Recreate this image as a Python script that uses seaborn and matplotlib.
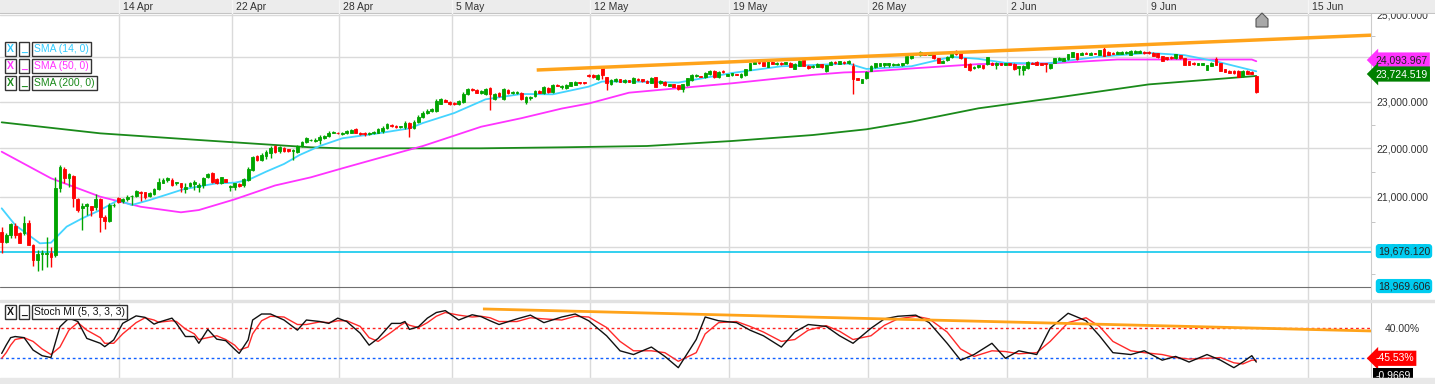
import numpy as np
import matplotlib
matplotlib.use("Agg")
import matplotlib.pyplot as plt
import matplotlib.ticker as mticker
from matplotlib.patches import Rectangle, Polygon
import seaborn as sns

# hourly candles (index 0 = first candle on the left)
open_ = [20305, 20111, 20241, 20416, 20274, 20286, 20469, 20048, 19761, 19876, 19880, 19889, 19857, 21168, 21556, 21384,
         21419, 20951, 20765, 20811, 20811, 20797, 20945, 20587, 20520, 20825, 20978, 20911, 20951, 21010, 21020, 21100,
         21086, 21010, 21046, 21146, 21282, 21337, 21337, 21285, 21270, 21160, 21215, 21250, 21188, 21235, 21392, 21474,
         21350, 21270, 21350, 21188, 21200, 21255, 21235, 21337, 21542, 21833, 21750, 21833, 21890, 22044, 21944, 21994,
         21980, 21940, 21923, 22044, 22135, 22165, 22150, 22171, 22220, 22255, 22330, 22330, 22290, 22310, 22330, 22400,
         22330, 22330, 22300, 22320, 22330, 22360, 22430, 22500, 22470, 22450, 22440, 22540, 22430, 22560, 22660, 22760,
         22790, 22800, 22960, 23040, 23000, 22980, 22950, 23000, 23170, 23280, 23260, 23200, 23160, 23310, 23060, 23200,
         23060, 23250, 23200, 23190, 23200, 23000, 23080, 23130, 23230, 23200, 23300, 23220, 23380, 23330, 23300, 23360,
         23380, 23440, 23430, 23600, 23590, 23510, 23780, 23550, 23400, 23470, 23500, 23440, 23480, 23422, 23506, 23498,
         23468, 23422, 23544, 23407, 23445, 23354, 23392, 23369, 23293, 23369, 23483, 23574, 23574, 23544, 23620, 23688,
         23544, 23688, 23582, 23590, 23620, 23559, 23597, 23711, 23848, 23893, 23893, 23787, 23893, 23848, 23878, 23848,
         23878, 23741, 23802, 23939, 23802, 23772, 23787, 23840, 23696, 23825, 23893, 23848, 23893, 23863, 23802, 23521,
         23422, 23521, 23688, 23772, 23802, 23820, 23830, 23830, 23830, 23830, 23863, 23977, 24091, 24053, 24091, 24060,
         24076, 23977, 23878, 23939, 24000, 24152, 24091, 23977, 23848, 23749, 23772, 23825, 23848, 23878, 23820, 23863,
         23830, 23863, 23848, 23760, 23720, 23749, 23878, 23893, 23863, 23863, 23748, 23878, 23940, 23925, 23955, 24016,
         24093, 24055, 24108, 24055, 24093, 24055, 24185, 24131, 24108, 24077, 24080, 24093, 24055, 24108, 24108, 24131,
         24131, 24108, 24093, 24032, 24001, 24016, 23978, 24055, 23978, 23917, 23878, 23825, 23825, 23710, 23802, 23955,
         23863, 23725, 23695, 23695, 23695, 23572, 23695, 23672, 23572]
high = [20400, 20274, 20469, 20469, 20290, 20613, 20534, 20060, 19952, 19952, 20203, 20015, 21405, 21646, 21610, 21474,
        21440, 20965, 20877, 20877, 20820, 21051, 20965, 20633, 20864, 20877, 20998, 20965, 21031, 21031, 21133, 21113,
        21100, 21086, 21168, 21372, 21372, 21405, 21372, 21300, 21282, 21270, 21303, 21337, 21270, 21405, 21487, 21508,
        21370, 21405, 21360, 21235, 21282, 21270, 21372, 21610, 21833, 21860, 21890, 21959, 22044, 22070, 22044, 22020,
        21990, 21975, 22070, 22156, 22240, 22200, 22210, 22270, 22280, 22355, 22370, 22345, 22340, 22390, 22400, 22420,
        22345, 22350, 22345, 22360, 22420, 22460, 22530, 22520, 22490, 22480, 22570, 22560, 22600, 22700, 22790, 22830,
        22870, 23060, 23090, 23060, 23010, 22995, 23040, 23220, 23310, 23300, 23280, 23250, 23310, 23330, 23190, 23220,
        23310, 23280, 23240, 23230, 23210, 23130, 23130, 23260, 23250, 23340, 23320, 23400, 23390, 23380, 23400, 23450,
        23470, 23450, 23440, 23620, 23610, 23620, 23790, 23560, 23510, 23520, 23510, 23500, 23490, 23550, 23520, 23510,
        23480, 23550, 23560, 23475, 23460, 23400, 23400, 23380, 23400, 23540, 23620, 23610, 23580, 23670, 23720, 23700,
        23690, 23700, 23630, 23650, 23630, 23635, 23740, 23880, 23910, 23905, 23910, 23930, 23905, 23895, 23890, 23900,
        23890, 23860, 23945, 23960, 23815, 23815, 23860, 23855, 23830, 23915, 23905, 23925, 23905, 23940, 23863, 23530,
        23515, 23690, 23815, 23880, 23875, 23870, 23870, 23865, 23860, 23870, 24045, 24090, 24100, 24135, 24100, 24100,
        24090, 23990, 23935, 24030, 24105, 24175, 24100, 23990, 23860, 23800, 23835, 23835, 24015, 23890, 23890, 23870,
        23870, 23870, 23860, 23810, 23815, 23915, 23890, 23905, 23870, 23870, 23850, 23990, 24005, 23990, 24085, 24130,
        24105, 24120, 24115, 24120, 24100, 24180, 24246, 24140, 24115, 24140, 24140, 24140, 24165, 24165, 24165, 24140,
        24140, 24115, 24100, 24040, 24010, 24025, 24080, 24065, 23990, 23925, 23885, 23870, 23870, 23835, 23890, 24000,
        23870, 23735, 23705, 23705, 23705, 23710, 23705, 23680, 23580]
low = [19890, 20081, 20177, 20177, 20080, 20241, 20040, 19653, 19560, 19573, 19634, 19622, 19824, 21098, 21270, 21188,
       20797, 20698, 20338, 20633, 20613, 20731, 20305, 20350, 20500, 20797, 20864, 20864, 20917, 20831, 20998, 20917,
       20951, 20985, 21031, 21133, 21270, 21303, 21215, 21235, 21098, 21066, 21188, 21133, 21098, 21168, 21372, 21270,
       21260, 21250, 21290, 21120, 21133, 21190, 21200, 21322, 21528, 21720, 21735, 21765, 21785, 21890, 21900, 21920,
       21920, 21750, 21890, 22030, 22100, 22140, 22120, 22080, 22200, 22230, 22320, 22300, 22270, 22290, 22310, 22310,
       22280, 22265, 22280, 22300, 22310, 22330, 22410, 22450, 22420, 22430, 22410, 22240, 22410, 22530, 22640, 22740,
       22770, 22780, 22940, 22990, 22930, 22930, 22930, 22980, 23150, 23240, 23190, 23180, 23140, 22820, 23040, 23110,
       23040, 23170, 23180, 23170, 23040, 22960, 23040, 23110, 23190, 23180, 23200, 23200, 23340, 23280, 23280, 23340,
       23370, 23400, 23400, 23560, 23540, 23490, 23500, 23270, 23380, 23450, 23430, 23420, 23440, 23410, 23470, 23440,
       23410, 23410, 23320, 23390, 23360, 23340, 23320, 23260, 23217, 23350, 23470, 23560, 23550, 23530, 23600, 23530,
       23530, 23650, 23570, 23580, 23590, 23540, 23580, 23700, 23840, 23855, 23790, 23770, 23840, 23835, 23830, 23840,
       23775, 23726, 23790, 23790, 23740, 23760, 23775, 23760, 23673, 23815, 23855, 23840, 23850, 23850, 23179, 23475,
       23410, 23510, 23680, 23760, 23790, 23787, 23787, 23800, 23815, 23800, 23850, 23965, 24060, 24040, 24050, 24050,
       23965, 23865, 23865, 23925, 23985, 24065, 23965, 23770, 23696, 23740, 23760, 23740, 23835, 23815, 23726, 23825,
       23820, 23815, 23715, 23597, 23597, 23735, 23840, 23815, 23815, 23673, 23740, 23865, 23930, 23915, 23940, 24005,
       23940, 24045, 24070, 24045, 24070, 24045, 24020, 24045, 24070, 24070, 24070, 24085, 24045, 24100, 24100, 24085,
       24085, 24020, 23990, 23915, 23945, 23970, 23970, 23970, 23815, 23815, 23830, 23815, 23815, 23700, 23790, 23815,
       23685, 23665, 23640, 23625, 23545, 23560, 23610, 23610, 23200]
close = [20110, 20241, 20450, 20241, 20092, 20469, 20048, 19761, 19876, 19889, 19895, 19824, 21168, 21610, 21372, 21460,
         20965, 20731, 20811, 20851, 20731, 20951, 20599, 20520, 20831, 20835, 20897, 20951, 20998, 21020, 21113, 21066,
         20998, 21066, 21146, 21290, 21337, 21372, 21235, 21295, 21188, 21188, 21282, 21290, 21235, 21372, 21453, 21303,
         21270, 21392, 21303, 21215, 21270, 21215, 21350, 21563, 21806, 21750, 21854, 21923, 22008, 21923, 22015, 21944,
         21940, 21960, 22044, 22135, 22207, 22175, 22180, 22240, 22255, 22330, 22350, 22310, 22310, 22370, 22384, 22330,
         22300, 22290, 22320, 22340, 22400, 22435, 22505, 22470, 22440, 22465, 22540, 22430, 22560, 22670, 22760, 22800,
         22850, 23020, 23050, 23000, 22950, 22945, 23020, 23180, 23280, 23250, 23200, 23230, 23285, 23160, 23160, 23130,
         23290, 23190, 23220, 23210, 23060, 23110, 23100, 23230, 23200, 23320, 23220, 23380, 23350, 23360, 23370, 23430,
         23440, 23410, 23410, 23570, 23550, 23600, 23590, 23420, 23480, 23500, 23440, 23480, 23450, 23521, 23483, 23453,
         23422, 23536, 23331, 23460, 23369, 23392, 23331, 23278, 23392, 23521, 23597, 23597, 23559, 23650, 23696, 23544,
         23673, 23658, 23612, 23635, 23597, 23620, 23726, 23863, 23893, 23863, 23802, 23909, 23848, 23878, 23840, 23886,
         23787, 23848, 23924, 23802, 23749, 23802, 23848, 23772, 23817, 23901, 23863, 23909, 23863, 23924, 23506, 23483,
         23506, 23673, 23802, 23863, 23863, 23863, 23860, 23855, 23850, 23863, 24030, 24076, 24068, 24121, 24060, 24091,
         23977, 23878, 23924, 24015, 24091, 24076, 23977, 23787, 23711, 23787, 23825, 23749, 23999, 23825, 23878, 23833,
         23863, 23825, 23726, 23800, 23802, 23901, 23848, 23825, 23825, 23840, 23840, 23978, 23993, 23978, 24070, 24115,
         23955, 24108, 24077, 24108, 24077, 24169, 24032, 24055, 24077, 24131, 24131, 24131, 24154, 24154, 24150, 24093,
         24093, 24032, 24001, 23925, 23955, 23978, 24070, 23978, 23825, 23825, 23840, 23863, 23863, 23825, 23878, 23825,
         23695, 23672, 23649, 23635, 23557, 23695, 23618, 23618, 23213]

# moving averages (candle index, value)
sma14_x = [0, 3, 7, 8.5, 11, 14.5, 18, 22, 26, 29, 33, 37, 40.5, 48, 52, 55, 59, 63, 66.5, 71, 76, 84, 91, 94, 101,
           108, 116, 123, 131, 134, 141, 151, 163, 174, 189, 193, 203, 212, 218, 224, 233, 245, 256, 264, 271, 280]
sma14_v = [20765, 20436, 20177, 20080, 20092, 20404, 20568, 20731, 20931, 20831, 20931, 21045, 21147, 21270, 21282,
           21337, 21508, 21667, 21855, 22044, 22207, 22313, 22420, 22535, 22752, 23053, 23171, 23164, 23335, 23449,
           23449, 23426, 23642, 23795, 23856, 23734, 23795, 24011, 23965, 23873, 23856, 24016, 24102, 24050, 23907, 23680]
sma50_x = [0, 11, 22, 31, 40, 44, 52, 61, 69, 76, 84, 94, 98.5, 107, 116, 125, 131, 140, 151, 163, 181, 188, 193, 203,
           218, 234, 249, 279, 280]
sma50_v = [21923, 21372, 20998, 20797, 20686, 20731, 20945, 21225, 21392, 21577, 21785, 22044, 22185, 22455, 22640,
           22850, 22960, 23200, 23300, 23410, 23600, 23655, 23670, 23745, 23845, 23860, 23950, 23950, 23910]
sma200_x = [0, 22, 44, 61, 69, 76, 94, 107, 125, 144, 163, 181, 193, 203, 218, 234, 256, 280]
sma200_v = [22550, 22313, 22171, 22065, 22016, 21995, 21995, 21995, 22016, 22044, 22150, 22277, 22400, 22563, 22855,
            23070, 23385, 23575]

# stochastic momentum index, %K (black) and %D (red)
stoch_x = [0, 1, 2, 3, 5, 7, 9, 11, 13, 15, 17, 19, 22, 23, 25, 27, 30, 32, 34, 35, 38, 39, 41, 43, 44, 46, 48, 50,
           52, 53, 55, 56, 58, 60, 63, 66, 68, 71, 73, 75, 77, 80, 82, 84, 87, 89, 90, 91, 93, 95, 97, 99, 102, 105,
           107, 109, 111, 115, 118, 121, 125, 128, 131, 135, 138, 141, 145, 148, 151, 155, 157, 160, 164, 167, 170,
           174, 177, 180, 184, 187, 190, 194, 197, 200, 204, 207, 211, 214, 217, 221, 224, 227, 231, 234, 238, 242,
           245, 248, 252, 255, 259, 262, 265, 269, 272, 275, 277, 279, 280]
stoch_k = [-27, -5, 15, 18, 15, -18, -33, -38, 44, 67, 58, 13, 0, -9, 9, 53, 73, 69, 51, 56, 67, 53, 18, 18, 0, 37,
           11, 7, -16, -27, 9, 62, 78, 78, 62, 35, 62, 58, 53, 67, 58, 27, -5, 13, 53, 53, 58, 37, 44, 67, 82, 87, 62,
           76, 71, 60, 50, 65, 75, 55, 70, 78, 60, 20, -20, -30, -10, -35, -65, 10, 70, 60, 55, 35, 20, -10, 30, 50,
           45, 20, 0, 40, 65, 72, 75, 55, 0, -45, -30, 0, -40, -20, -30, 40, 80, 60, 20, -25, -30, -20, -45, -35, -50,
           -30, -45, -65, -50, -33, -50]
stoch_d = [-40, -25, -5, 10, 15, 5, -15, -30, -10, 35, 55, 35, 15, 0, 0, 25, 55, 68, 62, 56, 60, 58, 38, 25, 10, 15,
           20, 10, -5, -18, -10, 25, 60, 72, 70, 50, 50, 57, 55, 60, 60, 45, 15, 5, 30, 48, 55, 48, 42, 55, 72, 82, 75,
           70, 72, 68, 58, 58, 68, 65, 62, 72, 70, 42, 5, -20, -20, -25, -48, -25, 25, 55, 58, 45, 30, 5, 10, 35, 47,
           32, 10, 20, 48, 65, 72, 65, 30, -15, -35, -20, -22, -28, -25, 5, 55, 68, 45, 5, -20, -25, -30, -38, -42,
           -40, -38, -52, -55, -45, -45]

# hand-drawn trend lines (candle index, value)
trend_top_x = [119.4, 305.6]
trend_top_y = [23710, 24515]
trend_low_x = [107.4, 305.6]
trend_low_y = [91.5, 32.8]

date_pos = [26.25, 51.3, 75.36, 100.4, 131.4, 162.4, 193.4, 224.4, 255.6, 291.5]
date_lbl = ["14 Apr", "22 Apr", "28 Apr", "5 May", "12 May", "19 May", "26 May", "2 Jun", "9 Jun", "15 Jun"]

level_cyan = 19913
level_gray = 19256

sns.set_style("white")
plt.rcParams['font.family'] = ['Liberation Sans', 'DejaVu Sans']

W, H = 1435, 384
fig = plt.figure(figsize=(W / 100, H / 100), dpi=100)


def rect(x0, y0, x1, y1):
    return [x0 / W, 1 - y1 / H, (x1 - x0) / W, (y1 - y0) / H]


ax = fig.add_axes(rect(0, 14, 1371, 300))
axs = fig.add_axes(rect(0, 302, 1371, 378))
top = fig.add_axes(rect(0, 0, W, 13.5), zorder=5)

grid_c = '#dadada'
xlim = (-0.38, 305.6)

# ---- main price panel
ax.set_yscale('log')
ax.set_xlim(*xlim)
ax.set_ylim(19018, 25018)
for p in date_pos:
    ax.axvline(p, color=grid_c, lw=1, zorder=0)
for lv in [20000, 21000, 22000, 23000, 24000, 25000]:
    ax.axhline(lv, color=grid_c, lw=1, zorder=0)

idx = np.arange(len(close))
o = np.array(open_)
c = np.array(close)
col = np.where(c >= o, '#00a400', '#ff0000')
ax.vlines(idx, low, high, colors=col, lw=1, zorder=3)
ax.bar(idx, np.abs(c - o), bottom=np.minimum(o, c), width=0.62, color=col, edgecolor=col, linewidth=0.6, zorder=3)

sns.lineplot(x=sma200_x, y=sma200_v, ax=ax, color='#1a8a1a', lw=1.3, zorder=2)
sns.lineplot(x=sma50_x, y=sma50_v, ax=ax, color='#ff33ff', lw=1.3, zorder=2)
sns.lineplot(x=sma14_x, y=sma14_v, ax=ax, color='#44d4ff', lw=1.3, zorder=2)
ax.plot(trend_top_x, trend_top_y, color='#ffa31a', lw=2.5, solid_capstyle='butt', zorder=4)
ax.axhline(level_cyan, color='#10c8ec', lw=1.2, zorder=2)
ax.axhline(level_gray, color='#707070', lw=0.8, zorder=2)

ax.yaxis.tick_right()
ax.yaxis.set_major_locator(mticker.FixedLocator([19000, 20000, 21000, 22000, 23000, 24000, 25000]))
ax.yaxis.set_major_formatter(mticker.FuncFormatter(lambda v, p: f"{v:,.3f}"))
ax.yaxis.set_minor_locator(mticker.FixedLocator([19500, 20500, 21500, 22500, 23500, 24500]))
ax.yaxis.set_minor_formatter(mticker.NullFormatter())
ax.tick_params(axis='y', which='major', length=0, pad=4, labelsize=7.5, labelcolor='#333333')
ax.tick_params(axis='y', which='minor', length=3, color='#bbbbbb')
ax.set_xticks([])
for s in ['top', 'left', 'bottom']:
    ax.spines[s].set_visible(False)
ax.spines['right'].set_color('#cccccc')

# ---- stochastic panel
axs.set_xlim(*xlim)
axs.set_ylim(-92.5, 110)
for p in date_pos:
    axs.axvline(p, color=grid_c, lw=1, zorder=0)
axs.axhline(40, color='#ff2020', lw=1, ls=(0, (2, 2)), zorder=1)
axs.axhline(-40, color='#1060ff', lw=1, ls=(0, (2, 2)), zorder=1)
sns.lineplot(x=stoch_x, y=stoch_d, ax=axs, color='#ff2a2a', lw=1.0, zorder=3)
sns.lineplot(x=stoch_x, y=stoch_k, ax=axs, color='#111111', lw=1.0, zorder=3)
axs.plot(trend_low_x, trend_low_y, color='#ffa31a', lw=2, solid_capstyle='butt', zorder=4)
axs.yaxis.tick_right()
axs.set_yticks([40])
axs.set_yticklabels(['40.00%'])
axs.tick_params(axis='y', length=0, pad=10, labelsize=7.5, labelcolor='#333333')
axs.set_xticks([])
axs.set_ylabel('')
ax.set_ylabel('')
for s in ['top', 'left', 'bottom']:
    axs.spines[s].set_visible(False)
axs.spines['right'].set_color('#cccccc')

# ---- date strip on top
top.set_xlim(0, W)
top.set_ylim(0, 1)
top.set_facecolor('#ececec')
top.set_xticks([])
top.set_yticks([])
for s in top.spines.values():
    s.set_visible(False)
top.axhline(0, color='#c4c4c4', lw=1.5)
sx = 1371 / (xlim[1] - xlim[0])
for p, lbl in zip(date_pos, date_lbl):
    px = (p - xlim[0]) * sx
    top.axvline(px, color='#f6f6f6', lw=1)
    top.text(px + 4, 0.5, lbl, fontsize=7.5, va='center', ha='left', color='#333333')

# ---- separators
fig.add_artist(Rectangle((0, 1 - 302 / H), 1, 2 / H, transform=fig.transFigure, color='#e2e2e2'))
fig.add_artist(Rectangle((0, 0), 1, 6 / H, transform=fig.transFigure, color='#e8e8e8'))

# ---- value tags on the right
ytr = ax.get_yaxis_transform()
ax.text(1.003, 23938, "24,093.967", transform=ytr, fontsize=7.5, va='center', ha='left', color='#222222',
        bbox=dict(boxstyle='larrow,pad=0.25', fc='#ff33ff', ec='none'), zorder=10, clip_on=False)
ax.text(1.003, 23619, "23,724.519", transform=ytr, fontsize=7.5, va='center', ha='left', color='white',
        bbox=dict(boxstyle='larrow,pad=0.25', fc='#008000', ec='none'), zorder=11, clip_on=False)
ax.text(1.005, 19930, "19,676.120", transform=ytr, fontsize=7.5, va='center', ha='left', color='#222222',
        bbox=dict(boxstyle='round,pad=0.2,rounding_size=0.3', fc='#00ccf0', ec='none'), zorder=10, clip_on=False)
ax.text(1.005, 19274, "18,969.606", transform=ytr, fontsize=7.5, va='center', ha='left', color='#222222',
        bbox=dict(boxstyle='round,pad=0.2,rounding_size=0.3', fc='#00ccf0', ec='none'), zorder=10, clip_on=False)
str_ = axs.get_yaxis_transform()
axs.text(1.003, -40, "-45.53%", transform=str_, fontsize=7.5, va='center', ha='left', color='white',
         bbox=dict(boxstyle='larrow,pad=0.25', fc='#ff0000', ec='none'), zorder=10, clip_on=False)
axs.text(1.003, -87, "-0.9669", transform=str_, fontsize=7.5, va='center', ha='left', color='white',
         bbox=dict(boxstyle='square,pad=0.25', fc='#000000', ec='none'), zorder=10, clip_on=False)

# ---- indicator legend boxes
def legend_row(ypix, label, color):
    yy = 1 - ypix / H
    kw = dict(fontsize=7.5, va='center', transform=fig.transFigure)
    bb = dict(boxstyle='square,pad=0.18', fc='white', ec='#333333', lw=1)
    fig.text(7 / W, yy, 'X', color=color, fontweight='bold', bbox=bb, **kw)
    fig.text(21 / W, yy, '_', color=color, fontweight='bold', bbox=bb, **kw)
    fig.text(34 / W, yy, label, color=color, bbox=bb, **kw)


legend_row(49, 'SMA (14, 0)', '#33ccff')
legend_row(66, 'SMA (50, 0)', '#ff33ff')
legend_row(83, 'SMA (200, 0)', '#1a8a1a')
legend_row(312, 'Stoch MI (5, 3, 3, 3)', '#111111')

# small house-shaped marker near the last candle
hx, hy = 1262 / W, 1 - 20 / H
house = [(hx - 6 / W, hy - 7 / H), (hx + 6 / W, hy - 7 / H), (hx + 6 / W, hy + 1 / H),
         (hx, hy + 7 / H), (hx - 6 / W, hy + 1 / H)]
fig.add_artist(Polygon(house, closed=True, transform=fig.transFigure, fc='#a8a8a8', ec='#555555', lw=0.8, zorder=20))

fig.savefig('out.png', dpi=100, facecolor='white')
